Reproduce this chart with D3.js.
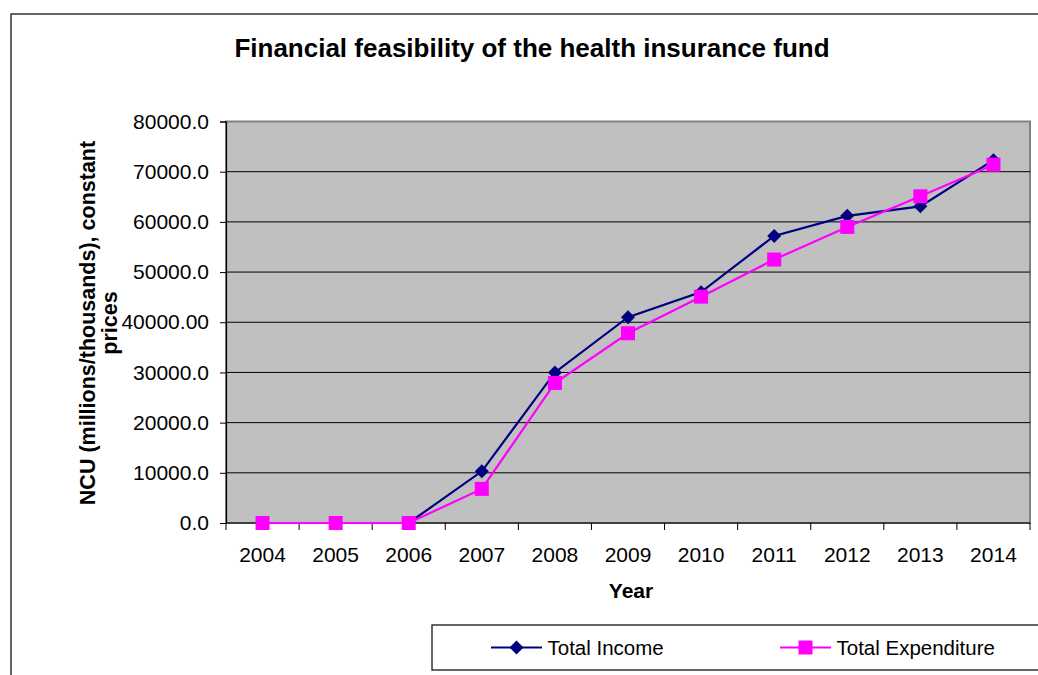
<!DOCTYPE html>
<html><head><meta charset="utf-8">
<script src="https://cdnjs.cloudflare.com/ajax/libs/d3/7.8.5/d3.min.js"></script>
<style>body{margin:0;background:#fff;}svg{display:block;font-family:"Liberation Sans",Arial,sans-serif;}</style>
</head><body>
<svg id="c" width="1038" height="675"></svg>
<script>
const years = ["2004","2005","2006","2007","2008","2009","2010","2011","2012","2013","2014"];
const totalIncome = [0, 0, 0, 10300, 30000, 41000, 46000, 57200, 61200, 63100, 72300];
const totalExpenditure = [0, 0, 0, 6800, 27900, 37800, 45100, 52500, 59000, 65100, 71400];
const yTicks = [0, 10000, 20000, 30000, 40000, 50000, 60000, 70000, 80000];
const yTickLabels = ["0.0","10000.0","20000.0","30000.0","40000.00","50000.0","60000.0","70000.0","80000.0"];
const seriesNames = ["Total Income", "Total Expenditure"];

const svg = d3.select("#c");
const L = 226, R = 1030, T = 121.5, B = 523;

// outer frame
svg.append("rect").attr("x",11).attr("y",14).attr("width",1100).attr("height",800)
  .attr("fill","#fff").attr("stroke","#000").attr("stroke-width",1.2);

const x = d3.scaleBand().domain(years).range([L, R]).padding(0);
const y = d3.scaleLinear().domain([0, 80000]).range([B, T]);

// plot area
svg.append("rect").attr("x",L).attr("y",T).attr("width",R-L).attr("height",B-T)
  .attr("fill","#C0C0C0").attr("stroke","#808080").attr("stroke-width",2);

// gridlines
svg.append("g").selectAll("line").data(yTicks.filter(d=>d>0 && d<80000)).join("line")
  .attr("x1",L).attr("x2",R).attr("y1",d=>y(d)).attr("y2",d=>y(d))
  .attr("stroke","#000").attr("stroke-width",1);

// y axis
const yAxis = d3.axisLeft(y).tickValues(yTicks).tickSize(6).tickPadding(11)
  .tickFormat((d,i)=>yTickLabels[i]);
const gy = svg.append("g").attr("transform",`translate(${L},0)`).call(yAxis);
gy.select(".domain").attr("stroke","#000").attr("stroke-width",1.2);
gy.selectAll(".tick line").attr("stroke","#000");
gy.selectAll("text").attr("font-size",21).attr("fill","#000").attr("font-family","Liberation Sans, Arial, sans-serif");

// x axis baseline
svg.append("line").attr("x1",L).attr("x2",R).attr("y1",B).attr("y2",B).attr("stroke","#000").attr("stroke-width",1.2);
// boundary ticks
svg.append("g").selectAll("line").data(years.concat(["end"])).join("line")
  .attr("x1",(d,i)=> i<years.length ? x(d) : R).attr("x2",(d,i)=> i<years.length ? x(d) : R)
  .attr("y1",B).attr("y2",B+7).attr("stroke","#000").attr("stroke-width",1);
// x labels
svg.append("g").selectAll("text").data(years).join("text")
  .attr("x",d=>x(d)+x.bandwidth()/2).attr("y",562).attr("text-anchor","middle")
  .attr("font-size",21).text(d=>d);

// series
const cx = (d,i)=> x(years[i]) + x.bandwidth()/2;
const line = d3.line().x((d,i)=>cx(d,i)).y(d=>y(d));
svg.append("path").datum(totalIncome).attr("d",line).attr("fill","none")
  .attr("stroke","#000080").attr("stroke-width",2.2);
svg.append("path").datum(totalExpenditure).attr("d",line).attr("fill","none")
  .attr("stroke","#FF00FF").attr("stroke-width",2.2);

const diamond = (s)=>`M0,${-s}L${s},0L0,${s}L${-s},0Z`;
svg.append("g").selectAll("path").data(totalIncome).join("path")
  .attr("transform",(d,i)=>`translate(${cx(d,i)},${y(d)})`)
  .attr("d",diamond(7)).attr("fill","#000080");
svg.append("g").selectAll("rect").data(totalExpenditure).join("rect")
  .attr("x",(d,i)=>cx(d,i)-7).attr("y",d=>y(d)-7).attr("width",14).attr("height",14)
  .attr("fill","#FF00FF");

// title
svg.append("text").attr("x",532).attr("y",57).attr("text-anchor","middle")
  .attr("font-size",26).attr("font-weight","bold").text("Financial feasibility of the health insurance fund");
// x title
svg.append("text").attr("x",631).attr("y",598).attr("text-anchor","middle")
  .attr("font-size",21).attr("font-weight","bold").text("Year");
// y title
const yt = svg.append("text").attr("font-size",21.5).attr("font-weight","bold").attr("text-anchor","middle");
yt.append("tspan").attr("x",-323).attr("y",95).text("NCU (millions/thousands), constant");
yt.append("tspan").attr("x",-323).attr("y",117).text("prices");
yt.attr("transform","rotate(-90)");

// legend
svg.append("rect").attr("x",432).attr("y",625).attr("width",700).attr("height",45)
  .attr("fill","#fff").attr("stroke","#000").attr("stroke-width",1.2);
const legX = [491, 780];
const lg = svg.append("g");
seriesNames.forEach((name,i)=>{
  const col = i===0 ? "#000080" : "#FF00FF";
  lg.append("line").attr("x1",legX[i]).attr("x2",legX[i]+51).attr("y1",647.5).attr("y2",647.5)
    .attr("stroke",col).attr("stroke-width",2.2);
  if(i===0){
    lg.append("path").attr("transform",`translate(${legX[i]+25.5},647.5)`).attr("d",diamond(7)).attr("fill",col);
  } else {
    lg.append("rect").attr("x",legX[i]+18.5).attr("y",640.5).attr("width",14).attr("height",14).attr("fill",col);
  }
  lg.append("text").attr("x",legX[i]+56.5).attr("y",654.5).attr("font-size",20.5).text(name);
});
</script>
</body></html>
